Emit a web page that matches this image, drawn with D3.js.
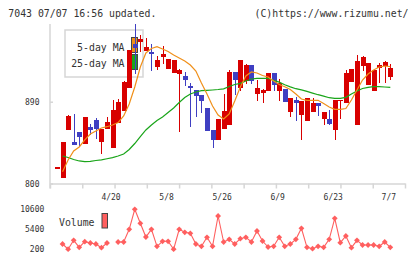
<!DOCTYPE html>
<html>
<head>
<meta charset="utf-8">
<script src="https://cdn.jsdelivr.net/npm/d3@7"></script>
<style>
  body { margin: 0; background: #fff; }
  svg { display: block; }
  text { font-family: 'DejaVu Sans Mono', monospace; fill: #333; }
</style>
</head>
<body>
<svg id="chart" width="420" height="259"></svg>
<script>
// DATA (one entry per trading day, oldest first)
const opens = [818,806,859,846,857,844,862,870,846,860,839,867,880,905,953,955.7,946,945,928.5,939.5,926,922,921,918,907.6,903,897.4,883,859,848,860,864,922.7,904.7,913,930.4,899,900,902,921.6,902,904,879,892,875,869,879,888.6,871.3,871,859,890.8,889,912,864.7,929.6,908.7,902,927.4,929.6,917.5];
const highs = [818,846,875.5,877,857,873,865.5,872,860,873,892,893,913,947,975,963.4,960,954,940,951,937,936,926,923,911,903,897.4,883,859,871,898.5,925,922.7,936,932,930.4,914,903.6,921.6,921.6,915,904,894,895.5,891,894.4,893.7,888.6,878.7,881,892,892,925,926,941.4,940.3,932.6,925,932.2,934.8,931.5];
const lows = [818,806,859,842,840.5,844,853,849,833,860,839,867,880,905,921,945,946,924,925,932,926,922,857,907,862.5,873.5,878,858,839.4,848,860,864,897.4,902,910,909,891,889,902,902,891,890,873.5,869,848,869,879,874.3,864.4,864.4,848,871.3,889,912,864.7,924,908.7,902,911,911,914];
const closes = [818,846,874,842,851,873,859,860,860,868,881,890,912,947,949,959,950,942,936,943,937,936,925,914,905.4,896.6,891,858,848,871,880,923,914,936,930,913,905,903,921.6,908.7,911,890,894,889,891,894.4,889,885.6,878.7,866,892,892,921.6,926,934.8,938.8,932.6,925,930.4,933.7,927];
const volumes = [null,1500,150,2460,640,2100,1760,1500,540,1760,null,2020,2020,5320,10520,6880,3320,5320,900,2200,2200,150,5320,4540,4280,1500,900,3240,900,8780,2020,2720,1500,2880,3240,2020,4880,2280,720,900,3240,900,1500,2720,5580,640,280,900,640,2720,8180,1840,3580,540,2460,1240,1240,1240,900,2020,640];
const ma5 = [null,813,825.9,835.8,840.2,847.9,854.5,857.8,861.1,862.5,864.4,867,874.3,887.5,906.2,928.2,943.6,948.5,950.5,948,945.2,941.4,938.1,934.8,930.4,923.8,910.6,898.5,885.3,875.4,871,876.5,890.8,906.2,918.3,922.7,921.6,918.8,917.2,912.8,908.9,906.5,903.4,898.5,893,891.5,891.5,891.5,888,884.2,881.6,881.6,882.5,891.9,902.9,913.9,920.5,924.9,928.2,929.3,928.7];
const ma25 = [null,830.3,828.6,826.4,824.8,824,824.4,825.3,825.9,827.2,828.4,830.3,832.5,837.4,844,851.7,858.9,864.4,869.4,873.2,878.1,883.1,889.1,894.6,898.5,900.7,902.1,902.5,902.9,903.4,904.2,906.7,908.9,910.2,912.8,915,915.7,915.7,915.7,913.4,911.5,908.7,906.3,904.3,903,901.3,899.5,897.7,896.2,894.4,893.7,893.7,894.8,898.5,901.8,904.5,905.8,906.5,906.5,906.2,905.8];
const tickIdx = [10, 20, 30, 40, 50, 60];
const tickLabels = ['4/20', '5/8', '5/26', '6/9', '6/23', '7/7'];
const priceTicks = [800, 890];
const volTicks = [200, 5400, 10600];

// SETUP
const svg = d3.select('#chart');
const red = '#d80000', blue = '#3f3fc2', gridCol = '#d6d6d6';
const orange = '#f0901a', green = '#1aa51a', volCol = '#ff5f5f';

const x = d3.scaleLinear().domain([0, opens.length - 1]).range([57, 390.3]);
const frameX = d3.scaleLinear().domain([0, 11]).range([50, 405]);
const y = d3.scaleLinear().domain([800, 975.5]).range([183.5, 24]);
const yv = d3.scaleLinear().domain([200, 10600]).range([249, 209]);

// narrow, slightly tall mono text like the original bitmap font
function label(parent, px, py, str, anchor) {
  return parent.append('text')
    .attr('transform', 'translate(' + px + ',' + py + ') scale(1,1.14)')
    .attr('text-anchor', anchor || 'start')
    .attr('font-size', 9.85)
    .text(str);
}

// HEADER
label(svg, 8.3, 17.3, '7043 07/07 16:56 updated.');
label(svg, 408.5, 17.3, '(C)https://www.rizumu.net/', 'end');

// AXES
const xAxis = svg.append('g')
  .attr('transform', 'translate(0,183.5)')
  .call(d3.axisBottom(frameX).tickValues(d3.range(12)).tickSize(5).tickSizeOuter(0).tickFormat(''));
xAxis.select('.domain').attr('stroke', gridCol).attr('stroke-width', 1.5);
xAxis.selectAll('.tick line').attr('stroke', gridCol).attr('stroke-width', 1.5);

svg.append('line')
  .attr('x1', 50).attr('x2', 50).attr('y1', y.range()[1]).attr('y2', y.range()[0] + 5)
  .attr('stroke', gridCol).attr('stroke-width', 1.5);

const yAxis = svg.append('g')
  .attr('transform', 'translate(50,0)')
  .call(d3.axisLeft(y).tickValues(priceTicks).tickSize(5).tickPadding(6));
yAxis.select('.domain').remove();
yAxis.selectAll('.tick line').attr('stroke', gridCol).attr('stroke-width', 1.5).attr('x2', 3);
yAxis.selectAll('.tick text').attr('font-size', 8).style('font-family', "'DejaVu Sans Mono', monospace").attr('fill', '#333').attr('dy', '0.36em').attr('x', -10.5);

svg.append('g').selectAll('text')
  .data(tickIdx)
  .join('text')
  .attr('x', (d) => x(d) - 1.5)
  .attr('y', 200)
  .attr('text-anchor', 'middle')
  .attr('font-size', 8)
  .text((d, i) => tickLabels[i]);

// LEGEND
const legend = svg.append('g');
legend.append('rect')
  .attr('x', 65).attr('y', 30).attr('width', 78).attr('height', 47)
  .attr('fill', '#fff').attr('stroke', gridCol).attr('stroke-width', 1.5);
label(legend, 124.5, 50.7, '5-day MA', 'end');
label(legend, 124.5, 67.3, '25-day MA', 'end');
legend.append('rect').attr('x', 131.5).attr('y', 37.5).attr('width', 6).attr('height', 15)
  .attr('fill', orange).attr('stroke', '#444').attr('stroke-width', 1);
legend.append('rect').attr('x', 131.5).attr('y', 54.5).attr('width', 6).attr('height', 15)
  .attr('fill', green).attr('stroke', '#444').attr('stroke-width', 1);

// CANDLES
const candles = svg.append('g').attr('shape-rendering', 'crispEdges')
  .selectAll('g')
  .data(opens.map((o, i) => ({ i, o, h: highs[i], l: lows[i], c: closes[i] })))
  .join('g');
candles.append('line')
  .attr('x1', (d) => Math.round(x(d.i)) + 0.5)
  .attr('x2', (d) => Math.round(x(d.i)) + 0.5)
  .attr('y1', (d) => y(d.h))
  .attr('y2', (d) => y(d.l))
  .attr('stroke', (d) => (d.c >= d.o ? red : blue))
  .attr('stroke-width', 1.2);
candles.append('rect')
  .attr('x', (d) => Math.round(x(d.i)) - 2)
  .attr('width', 5)
  .attr('y', (d) => y(Math.max(d.o, d.c)))
  .attr('height', (d) => Math.max(1.5, Math.abs(y(d.o) - y(d.c))))
  .attr('fill', (d) => (d.c >= d.o ? red : blue));

// MOVING AVERAGES
const maLine = d3.line()
  .defined((d) => d != null)
  .x((d, i) => x(i))
  .y((d) => y(d));
svg.append('path').datum(ma25)
  .attr('d', maLine).attr('fill', 'none').attr('stroke', green).attr('stroke-width', 1.2);
svg.append('path').datum(ma5)
  .attr('d', maLine).attr('fill', 'none').attr('stroke', orange).attr('stroke-width', 1.2);

// VOLUME
svg.append('g').selectAll('text')
  .data(volTicks)
  .join('text')
  .attr('x', 44.3)
  .attr('y', (d) => yv(d))
  .attr('dy', '0.36em')
  .attr('text-anchor', 'end')
  .attr('font-size', 8)
  .text((d) => d);

label(svg, 59, 226, 'Volume');
svg.append('rect').attr('x', 102).attr('y', 213.5).attr('width', 5.5).attr('height', 14.5)
  .attr('fill', volCol).attr('stroke', '#444').attr('stroke-width', 1);

const volLine = d3.line()
  .defined((d) => d != null)
  .x((d, i) => x(i))
  .y((d) => yv(d));
svg.append('path').datum(volumes)
  .attr('d', volLine).attr('fill', 'none').attr('stroke', volCol).attr('stroke-width', 1.1);
svg.append('g').selectAll('path')
  .data(volumes.map((v, i) => ({ v, i })).filter((d) => d.v != null))
  .join('path')
  .attr('d', d3.symbol(d3.symbolSquare, 17))
  .attr('transform', (d) => 'translate(' + x(d.i) + ',' + yv(d.v) + ') rotate(45)')
  .attr('fill', volCol);
</script>
</body>
</html>
